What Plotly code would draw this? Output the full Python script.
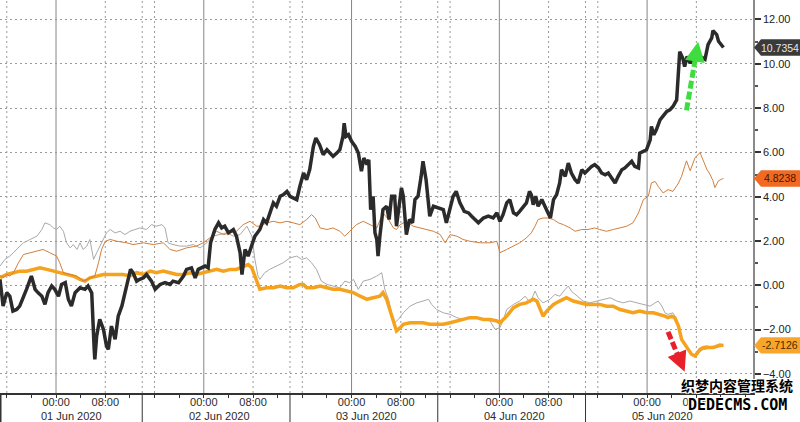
import pandas as pd
import plotly.graph_objects as go

# ---------------- data (hours after 2020-05-31 14:54) ----------------
START = pd.Timestamp("2020-05-31 14:54")
END_HOURS = 122.3

black_hours = [
    0.0, 0.5, 1.1, 1.6, 2.1, 2.7, 3.2, 3.8, 4.3, 5.1,
    5.7, 6.2, 6.8, 7.3, 7.8, 8.4, 8.9, 9.5, 10.0, 10.6,
    11.1, 11.6, 12.2, 13.0, 13.8, 14.3, 14.9, 15.3, 15.4, 15.7,
    16.2, 16.8, 17.3, 17.6, 18.1, 18.7, 19.2, 19.8, 20.3, 20.8,
    21.2, 21.6, 22.2, 22.7, 23.3, 23.8, 24.6, 25.2, 26.0, 26.8,
    27.6, 28.1, 29.0, 29.8, 30.3, 31.1, 31.7, 32.2, 32.8, 33.3,
    33.8, 34.2, 34.9, 35.5, 36.0, 36.5, 37.1, 37.9, 38.4, 39.0,
    39.3, 39.8, 40.3, 40.9, 41.4, 42.2, 42.8, 43.3, 43.8, 44.4,
    44.9, 45.5, 46.0, 46.6, 47.1, 47.6, 48.2, 48.7, 49.3, 49.8,
    50.3, 50.9, 51.3, 51.9, 52.5, 53.1, 53.6, 54.1, 54.7, 55.2,
    55.7, 55.9, 56.2, 56.6, 57.1, 57.7, 58.2, 58.7, 59.1, 59.6,
    59.9, 60.2, 60.6, 60.9, 61.2, 61.4, 61.7, 62.2, 62.8, 63.2,
    63.6, 64.1, 64.4, 64.7, 65.2, 65.5, 65.8, 66.0, 66.5, 67.0,
    67.4, 67.9, 68.4, 68.7, 69.2, 69.6, 69.8, 70.4, 71.2, 72.0,
    72.5, 73.1, 73.6, 74.1, 74.7, 75.4, 76.1, 76.6, 77.1, 77.7,
    78.5, 79.3, 80.1, 80.7, 81.2, 81.7, 82.3, 82.8, 83.4, 83.9,
    84.4, 85.0, 85.5, 86.0, 86.3, 86.6, 87.0, 87.4, 88.0, 88.5,
    89.0, 89.4, 89.9, 90.4, 90.9, 91.2, 91.8, 92.3, 92.8, 93.4,
    93.9, 94.5, 95.0, 95.5, 96.1, 96.6, 97.2, 97.7, 98.3, 98.8,
    99.3, 99.9, 100.4, 101.0, 101.5, 102.0, 102.6, 103.1, 103.7, 103.9,
    104.5, 105.0, 105.6, 105.8, 106.2, 106.6, 107.2, 107.7, 108.3, 108.8,
    109.3, 109.9, 110.2, 110.4, 110.9, 111.2, 111.6, 112.1, 112.6, 113.1,
    113.7, 114.5, 115.0, 115.6, 115.8, 116.1, 116.4, 116.7, 116.9, 117.2,
    117.5,
]
black_values = [
    0.27, -0.93, -0.33, -0.49, -1.16, -1.09, -0.94, -0.56, -0.18, 0.42,
    -0.18, -0.34, -0.49, -0.86, -0.33, -0.03, -0.18, -0.49, 0.04, 0.12,
    -0.63, -0.93, -0.33, -0.11, -0.18, -0.03, -0.34, -2.89, -3.34, -2.29,
    -1.53, -1.99, -2.74, -2.89, -1.84, -2.44, -1.39, -0.93, -0.33, 0.27,
    0.72, 0.57, 0.19, 0.27, 0.34, 0.49, 0.19, -0.18, 0.04, 0.12,
    0.04, 0.19, 0.12, 0.42, 0.72, 0.79, 0.34, 0.72, 0.79, 0.87,
    0.79, 1.92, 2.52, 2.82, 2.59, 2.67, 2.37, 2.52, 2.22, 1.47,
    0.49, 1.62, 1.32, 1.77, 2.22, 2.52, 2.97, 2.82, 3.27, 3.72,
    3.57, 4.02, 4.09, 4.24, 4.02, 3.94, 3.87, 4.47, 5.07, 4.77,
    5.22, 6.27, 6.65, 6.35, 5.90, 6.12, 5.97, 5.82, 5.97, 6.12,
    6.72, 7.32, 6.72, 6.80, 6.50, 6.27, 5.97, 5.15, 5.75, 5.45,
    5.67, 3.42, 4.02, 2.37, 2.07, 1.32, 2.22, 3.42, 3.57, 2.97,
    4.02, 4.02, 2.67, 3.42, 4.40, 4.02, 2.67, 2.29, 2.97, 2.82,
    3.87, 4.02, 4.92, 5.60, 4.77, 3.42, 3.12, 3.57, 3.50, 3.42,
    2.82, 3.42, 4.02, 4.24, 3.72, 3.34, 3.27, 3.12, 2.97, 2.82,
    3.04, 3.12, 3.04, 3.27, 2.89, 3.19, 3.72, 3.87, 3.27, 3.19,
    3.34, 3.57, 3.72, 4.24, 4.09, 3.64, 4.02, 3.57, 3.87, 3.57,
    3.27, 3.04, 3.87, 4.09, 4.62, 5.22, 4.92, 5.52, 5.07, 4.77,
    4.62, 5.22, 5.07, 5.22, 5.37, 5.45, 5.30, 5.07, 4.99, 5.07,
    4.84, 4.62, 4.92, 5.22, 5.30, 5.45, 5.60, 5.37, 5.30, 5.97,
    6.05, 6.12, 6.57, 7.17, 6.80, 7.02, 7.47, 7.62, 7.85, 7.92,
    8.07, 8.37, 9.57, 10.55, 10.25, 9.87, 10.33, 10.03, 10.25, 10.18,
    10.33, 10.20, 10.87, 11.17, 11.50, 11.40, 11.32, 11.02, 10.95, 10.80,
    10.7354,
]

thin_orange_hours = [
    0.0, 0.5, 1.1, 1.6, 2.2, 3.0, 3.8, 4.9, 6.0, 7.0,
    8.1, 9.2, 9.7, 10.3, 11.4, 12.5, 13.5, 14.6, 15.4, 16.0,
    16.5, 17.1, 17.9, 19.0, 20.6, 21.6, 23.3, 24.9, 26.5, 27.1,
    27.6, 28.7, 30.3, 31.9, 33.0, 34.1, 35.2, 36.3, 37.4, 38.4,
    39.5, 40.6, 41.7, 42.2, 43.3, 44.4, 45.5, 46.6, 47.6, 48.7,
    49.8, 50.6, 51.2, 52.0, 53.1, 54.1, 55.2, 56.0, 56.8, 57.9,
    59.0, 60.1, 61.2, 62.2, 63.1, 63.9, 64.4, 65.0, 66.0, 67.1,
    68.2, 69.3, 70.4, 71.5, 72.3, 73.1, 74.2, 75.2, 76.3, 78.0,
    79.6, 80.7, 81.2, 82.3, 83.4, 84.4, 85.5, 86.3, 86.9, 87.4,
    88.2, 89.0, 89.9, 90.7, 91.5, 92.6, 93.4, 94.5, 95.5, 96.6,
    97.4, 98.5, 99.6, 100.7, 101.8, 102.8, 103.7, 104.5, 105.3, 105.8,
    106.4, 106.9, 107.7, 108.5, 109.3, 110.2, 110.7, 111.2, 111.5, 112.1,
    112.9, 113.7, 114.2, 114.8, 115.3, 115.8, 116.1, 116.7, 117.2, 117.5,
]
thin_orange_values = [
    0.45, 0.34, 0.49, 0.42, 0.57, 1.02, 1.39, 1.47, 1.54, 1.62,
    1.47, 1.32, 1.02, 0.57, 0.49, 0.42, 0.19, 0.34, 0.42, 1.02,
    1.62, 1.99, 2.07, 1.99, 1.92, 1.84, 1.92, 1.84, 1.92, 1.77,
    1.62, 1.54, 1.69, 1.77, 1.92, 2.14, 2.44, 2.29, 2.37, 2.44,
    2.74, 2.89, 2.67, 2.67, 2.82, 2.89, 2.82, 2.89, 2.82, 2.74,
    2.97, 3.19, 3.04, 2.59, 2.52, 2.59, 2.44, 2.22, 2.44, 2.74,
    2.89, 2.74, 2.59, 3.27, 2.97, 2.59, 2.52, 2.74, 2.89, 2.67,
    2.59, 2.52, 2.44, 2.29, 1.92, 2.29, 2.22, 2.07, 1.99, 1.92,
    1.92, 1.99, 1.47, 1.62, 1.77, 1.92, 2.14, 2.37, 2.67, 2.97,
    3.04, 3.04, 2.97, 2.82, 2.74, 2.59, 2.44, 2.52, 2.52, 2.59,
    2.52, 2.44, 2.52, 2.59, 2.67, 2.82, 3.27, 3.87, 4.02, 4.62,
    4.69, 4.47, 4.17, 4.32, 4.24, 4.62, 4.92, 5.37, 5.62, 5.17,
    5.77, 5.99, 5.62, 5.24, 5.02, 4.72, 4.41, 4.72, 4.79, 4.8238,
]

thick_orange_hours = [
    0.0, 1.1, 2.2, 3.2, 4.3, 5.4, 6.5, 7.6, 8.7, 9.7,
    10.8, 11.9, 13.0, 13.8, 14.6, 15.7, 16.8, 17.9, 19.0, 20.0,
    21.1, 22.2, 23.3, 24.4, 25.4, 26.5, 27.6, 28.7, 29.8, 30.9,
    31.9, 33.0, 34.1, 35.2, 36.3, 37.4, 38.4, 39.5, 40.3, 40.9,
    41.4, 41.9, 42.2, 43.3, 44.4, 45.5, 46.6, 47.6, 48.7, 49.3,
    49.8, 50.9, 52.0, 53.1, 54.1, 55.2, 56.3, 57.4, 58.5, 59.6,
    60.6, 61.7, 62.2, 62.8, 63.3, 63.9, 64.4, 65.0, 65.5, 66.6,
    67.7, 68.7, 69.8, 70.9, 72.0, 73.1, 74.2, 75.2, 76.3, 77.4,
    78.5, 79.6, 80.7, 81.2, 82.3, 83.4, 84.4, 85.5, 86.6, 87.2,
    87.7, 88.2, 88.8, 89.9, 90.9, 92.0, 93.1, 94.2, 95.3, 96.4,
    97.4, 98.5, 99.6, 100.7, 101.8, 102.8, 103.9, 105.0, 106.1, 107.2,
    108.0, 108.5, 109.1, 109.6, 110.2, 110.7, 111.2, 111.8, 112.3, 112.9,
    113.4, 113.7, 114.2, 114.8, 115.3, 115.8, 116.4, 116.9, 117.5,
]
thick_orange_values = [
    0.34, 0.49, 0.57, 0.64, 0.64, 0.72, 0.79, 0.72, 0.64, 0.57,
    0.49, 0.42, 0.27, 0.19, 0.34, 0.42, 0.49, 0.49, 0.49, 0.49,
    0.42, 0.57, 0.49, 0.64, 0.57, 0.64, 0.57, 0.49, 0.49, 0.57,
    0.49, 0.57, 0.64, 0.72, 0.64, 0.72, 0.72, 0.87, 0.94, 0.79,
    0.42, -0.03, -0.18, -0.11, -0.11, -0.03, -0.11, -0.11, 0.04, 0.04,
    -0.11, -0.11, -0.03, -0.11, -0.18, -0.18, -0.26, -0.33, -0.49, -0.63,
    -0.56, -0.49, -0.33, -0.63, -1.09, -1.61, -2.06, -1.91, -1.76, -1.69,
    -1.69, -1.69, -1.76, -1.76, -1.76, -1.69, -1.61, -1.54, -1.46, -1.46,
    -1.54, -1.54, -1.61, -1.69, -1.39, -1.01, -0.86, -0.79, -0.63, -0.71,
    -1.09, -1.39, -1.16, -0.86, -0.71, -0.56, -0.71, -0.79, -0.86, -0.86,
    -0.86, -0.94, -0.94, -1.09, -1.16, -1.24, -1.16, -1.24, -1.24, -1.31,
    -1.39, -1.46, -1.39, -1.46, -1.84, -2.44, -2.66, -2.89, -3.11, -3.19,
    -2.96, -2.89, -2.81, -2.78, -2.81, -2.81, -2.75, -2.69, -2.7126,
]

gray_hours = [
    0.0, 0.8, 1.6, 2.7, 3.8, 4.9, 6.0, 6.8, 7.3, 8.1,
    8.7, 9.2, 9.7, 10.3, 10.8, 11.4, 11.9, 12.5, 13.0, 13.5,
    14.1, 14.6, 15.2, 15.7, 16.2, 16.8, 17.3, 17.9, 18.7, 19.5,
    20.3, 21.1, 21.9, 22.7, 23.8, 24.6, 25.4, 26.3, 26.8, 27.3,
    28.1, 29.2, 30.3, 31.4, 32.5, 33.6, 34.6, 35.7, 36.8, 37.9,
    39.0, 40.1, 40.9, 41.4, 41.9, 42.2, 43.0, 43.8, 44.9, 46.0,
    47.1, 48.2, 49.0, 49.8, 50.6, 51.4, 52.2, 53.1, 54.1, 55.2,
    56.0, 56.8, 57.4, 58.2, 59.0, 60.1, 61.2, 62.0, 62.5, 63.1,
    63.6, 64.1, 64.7, 65.5, 66.6, 67.7, 68.7, 69.6, 70.1, 70.9,
    72.0, 73.1, 74.2, 75.2, 76.3, 77.4, 78.5, 79.6, 80.4, 81.2,
    81.7, 82.3, 83.4, 84.4, 85.3, 86.1, 86.9, 87.4, 88.2, 89.3,
    90.1, 90.9, 91.8, 92.3, 92.8, 93.7, 94.7, 95.8, 96.9, 98.0,
    99.1, 100.2, 101.2, 102.3, 103.4, 104.5, 105.6, 106.4, 106.9, 107.5,
    108.0, 108.5, 109.3, 109.9, 110.4, 111.0, 111.8, 112.6, 113.4, 114.2,
    115.3, 116.4, 117.5,
]
gray_values = [
    0.87, 1.17, 1.32, 1.62, 1.92, 2.07, 2.22, 2.52, 2.82, 2.74,
    2.59, 2.52, 2.67, 2.44, 1.92, 1.69, 1.84, 1.62, 1.92, 1.62,
    1.77, 2.07, 1.17, 1.47, 1.77, 2.14, 2.37, 2.52, 2.37, 2.44,
    2.29, 2.44, 2.52, 2.59, 2.52, 2.74, 2.67, 2.74, 2.59, 1.92,
    1.84, 1.77, 1.77, 1.84, 1.69, 1.92, 2.22, 2.29, 2.37, 2.22,
    2.29, 2.67, 2.22, 1.17, 0.42, 0.27, 0.57, 0.72, 0.87, 1.02,
    1.24, 1.32, 1.17, 1.24, 1.02, 0.72, 0.19, 0.04, -0.03, -0.11,
    0.19, 0.12, 0.27, -0.18, 0.19, 0.27, 0.42, 0.57, -0.18, -0.63,
    -1.24, -1.69, -1.54, -1.24, -0.94, -0.79, -0.71, -0.63, -0.86, -1.09,
    -1.24, -1.31, -1.46, -1.54, -1.46, -1.46, -1.54, -1.61, -1.99, -1.91,
    -1.60, -1.09, -0.86, -0.71, -0.49, -0.79, -0.26, -0.56, -0.79, -0.64,
    -0.41, -0.49, -0.18, -0.03, -0.26, -0.49, -0.71, -0.79, -0.71, -0.64,
    -0.56, -0.71, -0.79, -0.71, -0.79, -0.86, -0.94, -0.79, -0.71, -0.94,
    -1.24, -1.31, -1.24, -1.54, -2.14, -2.59, -2.89, -3.19, -3.04, -2.90,
    -2.85, -2.80, -2.75,
]

days = ["2020-06-01", "2020-06-02", "2020-06-03", "2020-06-04", "2020-06-05"]
day_labels = ["01 Jun 2020", "02 Jun 2020", "03 Jun 2020", "04 Jun 2020", "05 Jun 2020"]
y_ticks = [-4, -2, 0, 2, 4, 6, 8, 10, 12]

# arrows (hours, value) tail -> tip
green_arrow = [(111.5, 7.9), (113.4, 11.0)]
red_arrow = [(108.5, -2.1), (111.2, -3.9)]


def t(hours):
    return [START + pd.Timedelta(hours=h) for h in hours]


fig = go.Figure()
fig.add_trace(go.Scatter(x=t(gray_hours), y=gray_values, mode="lines",
                         line=dict(color="#a9a9a9", width=1), hoverinfo="skip"))
fig.add_trace(go.Scatter(x=t(thick_orange_hours), y=thick_orange_values, mode="lines",
                         line=dict(color="#f5a21c", width=3.5), hoverinfo="skip"))
fig.add_trace(go.Scatter(x=t(thin_orange_hours), y=thin_orange_values, mode="lines",
                         line=dict(color="#d27f3c", width=1), hoverinfo="skip"))
fig.add_trace(go.Scatter(x=t(black_hours), y=black_values, mode="lines",
                         line=dict(color="#2b2b2b", width=3.5), hoverinfo="skip"))

shapes = []
last_time = START + pd.Timedelta(hours=black_hours[-1])
dot = "2px,3px"
prev16 = pd.Timestamp("2020-05-31 16:00")
shapes.append(dict(type="line", xref="x", yref="paper", x0=prev16, x1=prev16, y0=0, y1=1,
                   line=dict(color="#9a9a9a", width=1, dash=dot), layer="below"))
for d in days:
    d0 = pd.Timestamp(d)
    shapes.append(dict(type="line", xref="x", yref="paper", x0=d0, x1=d0, y0=0, y1=1,
                       line=dict(color="#858585", width=1), layer="below"))
    for hh in (8, 14, 16):
        tt = d0 + pd.Timedelta(hours=hh)
        if tt > last_time:
            continue
        shapes.append(dict(type="line", xref="x", yref="paper", x0=tt, x1=tt, y0=0, y1=1,
                           line=dict(color="#9a9a9a", width=1, dash=dot), layer="below"))
        if hh == 14:
            shapes.append(dict(type="line", xref="x", yref="paper", x0=tt, x1=tt,
                               y0=-0.075, y1=0, line=dict(color="#333333", width=1)))
shapes.append(dict(type="line", xref="paper", yref="paper", x0=0.001, x1=0.001,
                   y0=-0.075, y1=0, line=dict(color="#333333", width=1.5)))

# arrows (dashed shafts + heads)
annotations = []
for (p0, p1), col in ((green_arrow, "#3fdc3f"), (red_arrow, "#e8202a")):
    h0, v0 = p0
    h1, v1 = p1
    hm = h0 + (h1 - h0) * 0.76
    vm = v0 + (v1 - v0) * 0.76
    shapes.append(dict(type="line", xref="x", yref="y",
                       x0=START + pd.Timedelta(hours=h0), y0=v0,
                       x1=START + pd.Timedelta(hours=hm), y1=vm,
                       line=dict(color=col, width=5, dash="8px,3px")))
    ha = h0 + (h1 - h0) * 0.72
    va = v0 + (v1 - v0) * 0.72
    annotations.append(dict(x=START + pd.Timedelta(hours=h1), y=v1, xref="x", yref="y",
                            ax=START + pd.Timedelta(hours=ha), ay=va, axref="x", ayref="y",
                            text="", showarrow=True, arrowhead=2, arrowsize=0.8,
                            arrowwidth=5, arrowcolor=col))

# value tags on the right
plot_w = 753.0
tags = [(black_values[-1], "#3a3a3a", "#e6e6e6"),
        (thin_orange_values[-1], "#f06a22", "#4a1500"),
        (thick_orange_values[-1], "#f8a62a", "#4a2a00")]
half = 0.37
for val, bg, fg in tags:
    x_tip = 754 / plot_w
    x_body = 761 / plot_w
    x_end = 800 / plot_w
    path = (f"M {x_tip} {val} L {x_body} {val + half} L {x_end} {val + half} "
            f"L {x_end} {val - half} L {x_body} {val - half} Z")
    shapes.append(dict(type="path", xref="paper", yref="y", path=path,
                       fillcolor=bg, line=dict(width=0)))
    annotations.append(dict(x=780 / plot_w, y=val, xref="paper", yref="y",
                            text=f"{val:.4f}", showarrow=False, xanchor="center",
                            yanchor="middle",
                            font=dict(family="Liberation Sans", size=10.5, color=fg)))

# day labels
for d, lab in zip(days, day_labels):
    annotations.append(dict(x=pd.Timestamp(d) + pd.Timedelta(hours=2.5), y=-(415.5 - 393) / 393.0,
                            xref="x", yref="paper", text=lab, showarrow=False,
                            xanchor="center", yanchor="middle",
                            font=dict(family="Liberation Sans", size=11, color="#2a2a2a")))

# watermark
shadow = "1px 1px 0 #fff, -1px -1px 0 #fff, 1px -1px 0 #fff, -1px 1px 0 #fff"
annotations.append(dict(x=737 / plot_w, y=-(385 - 393) / 393.0, xref="paper", yref="paper",
                        text="<b>织梦内容管理系统</b>", showarrow=False, xanchor="center",
                        yanchor="middle",
                        font=dict(family="Noto Sans CJK SC", size=14, color="#000000",
                                  shadow=shadow)))
annotations.append(dict(x=737 / plot_w, y=-(405 - 393) / 393.0, xref="paper", yref="paper",
                        text="<b>DEDECMS.COM</b>", showarrow=False, xanchor="center",
                        yanchor="middle",
                        font=dict(family="DejaVu Sans Mono", size=15, color="#000000",
                                  shadow=shadow)))

tickvals = []
ticktext = []
for d in days:
    tickvals += [pd.Timestamp(d), pd.Timestamp(d) + pd.Timedelta(hours=8)]
    ticktext += ["00:00", "08:00"]

fig.update_layout(
    width=800, height=422,
    margin=dict(l=0, r=47, t=0, b=29, autoexpand=False),
    paper_bgcolor="white", plot_bgcolor="white",
    showlegend=False, hovermode=False,
    shapes=shapes, annotations=annotations,
    xaxis=dict(
        type="date",
        range=[START, START + pd.Timedelta(hours=END_HOURS)],
        tickmode="array", tickvals=tickvals, ticktext=ticktext,
        showgrid=False, zeroline=False, automargin=False,
        showline=True, linecolor="#333333", linewidth=1.5,
        ticks="outside", ticklen=3, tickcolor="#333333",
        ticklabelstandoff=-5,
        minor=dict(dtick=4 * 3600 * 1000, tick0="2020-06-01", ticks="outside",
                   ticklen=3, tickcolor="#333333", showgrid=False),
        tickfont=dict(family="Liberation Sans", size=11, color="#2a2a2a"),
    ),
    yaxis=dict(
        side="right",
        range=[-4.86, 12.88],
        tickmode="array", tickvals=y_ticks, tickformat=".2f",
        showgrid=True, gridcolor="#9a9a9a", gridwidth=1, griddash=dot,
        zeroline=False, automargin=False,
        showline=True, linecolor="#8a8a8a", linewidth=1.5,
        ticks="outside", ticklen=6, tickwidth=2, tickcolor="#333333",
        minor=dict(dtick=1, tick0=0, ticks="outside", ticklen=3, tickcolor="#555555",
                   showgrid=False),
        tickfont=dict(family="Liberation Sans", size=11, color="#222222"),
    ),
)

fig.write_html(
    "out.html",
    config={"displayModeBar": False},
    post_script="document.body.style.margin='0';document.body.style.overflow='hidden';",
)
